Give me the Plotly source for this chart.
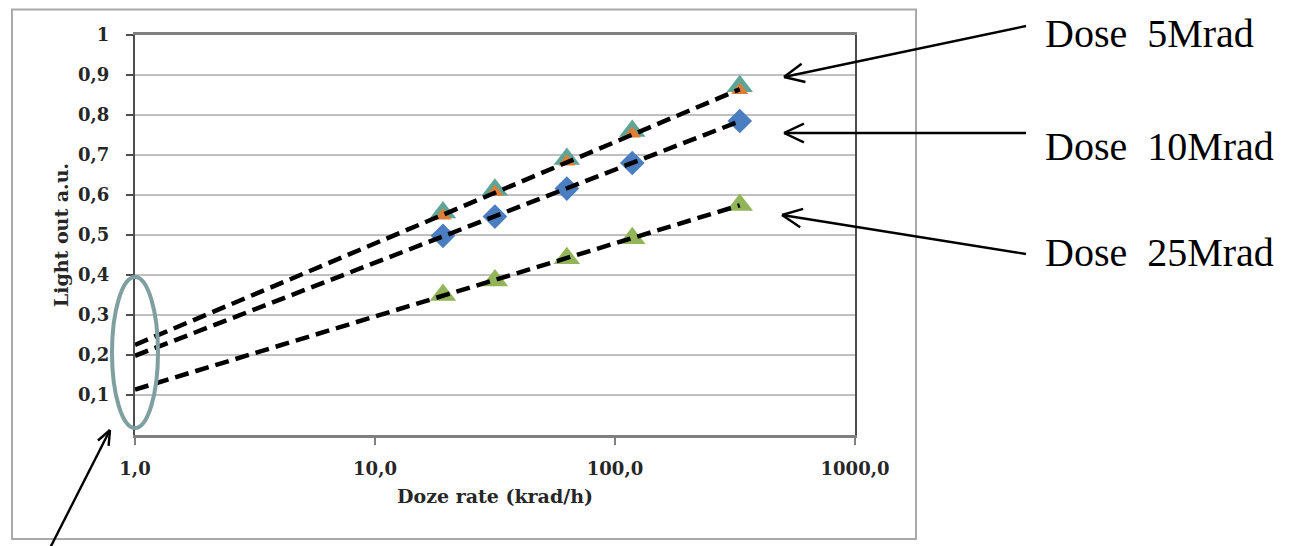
import numpy as np
import plotly.graph_objects as go

# ---------------- data ----------------
dose_rate = [19.2, 31.6, 63.0, 118.0, 331.0]           # krad/h
light_5_orange = [0.548, 0.607, 0.683, 0.753, 0.862]    # Dose 5 Mrad (orange marker)
light_5_teal = [0.556, 0.613, 0.690, 0.760, 0.872]      # Dose 5 Mrad (teal triangle)
light_10 = [0.498, 0.546, 0.616, 0.680, 0.785]          # Dose 10 Mrad
light_25 = [0.350, 0.386, 0.442, 0.492, 0.575]          # Dose 25 Mrad

y_tickvals = [0.1, 0.2, 0.3, 0.4, 0.5, 0.6, 0.7, 0.8, 0.9, 1.0]
y_ticktext = ["0,1", "0,2", "0,3", "0,4", "0,5", "0,6", "0,7", "0,8", "0,9", "1"]
x_tickvals = [1, 10, 100, 1000]
x_ticktext = ["1,0", "10,0", "100,0", "1000,0"]
dose_labels = ["Dose\u00a0\u00a05Mrad", "Dose\u00a0\u00a010Mrad", "Dose\u00a0\u00a025Mrad"]

# ---------------- layout geometry (page pixels) ----------------
OFF = 8                          # default page body margin
W, H = 1295 - OFF, 546 - OFF     # figure size
PL, PR, PT, PB = 135, 855, 35, 435   # plot area edges in page px


def px(x):
    return (x - PL) / (PR - PL)


def py(y):
    return (PB - y) / (PB - PT)


CHART_FONT = "DejaVu Serif"
TXT = "#262626"

fig = go.Figure()

# markers
fig.add_trace(go.Scatter(x=dose_rate, y=light_10, mode="markers", name="10 Mrad",
                         marker=dict(symbol="diamond", size=19, color="#4a7ec0")))
fig.add_trace(go.Scatter(x=dose_rate, y=light_25, mode="markers", name="25 Mrad",
                         marker=dict(symbol="triangle-up", size=23, color="#93b55a")))
fig.add_trace(go.Scatter(x=dose_rate, y=light_5_teal, mode="markers", name="5 Mrad a",
                         marker=dict(symbol="triangle-up", size=23, color="#5fa597")))
fig.add_trace(go.Scatter(x=dose_rate, y=light_5_orange, mode="markers", name="5 Mrad b",
                         marker=dict(symbol="triangle-up", size=15, color="#dd7d38")))

# logarithmic trendlines (least squares on log10 x, like Excel's log trendline)
xs_line = np.logspace(0, np.log10(max(dose_rate)), 60)
for ys in (light_5_orange, light_10, light_25):
    k, b = np.polyfit(np.log10(dose_rate), ys, 1)
    fig.add_trace(go.Scatter(x=xs_line, y=k * np.log10(xs_line) + b, mode="lines",
                             line=dict(color="black", width=4.5, dash="14px,7px"),
                             hoverinfo="skip"))

shapes = []
# outer chart frame
shapes.append(dict(type="rect", xref="paper", yref="paper",
                   x0=px(12), x1=px(916), y0=py(9.5), y1=py(539),
                   line=dict(color="#a9a9a9", width=2), layer="below"))
# ellipse around intercepts
shapes.append(dict(type="circle", xref="paper", yref="paper",
                   x0=px(112), x1=px(158), y0=py(277), y1=py(428),
                   line=dict(color="#7f9fa0", width=4)))


def arrow(tail, tip, arm=22, ang=25):
    s = [dict(type="line", xref="paper", yref="paper",
              x0=px(tail[0]), y0=py(tail[1]), x1=px(tip[0]), y1=py(tip[1]),
              line=dict(color="black", width=2.4))]
    d = np.array(tail, float) - np.array(tip, float)
    d /= np.linalg.norm(d)
    for a in (ang, -ang):
        r = np.radians(a)
        v = np.array([d[0] * np.cos(r) - d[1] * np.sin(r), d[0] * np.sin(r) + d[1] * np.cos(r)])
        e = np.array(tip, float) + arm * v
        s.append(dict(type="line", xref="paper", yref="paper",
                      x0=px(tip[0]), y0=py(tip[1]), x1=px(e[0]), y1=py(e[1]),
                      line=dict(color="black", width=2.4)))
    return s


shapes += arrow((1026, 26), (784, 77))
shapes += arrow((1026, 133), (784, 133))
shapes += arrow((1026, 254), (782, 215))
shapes += arrow((48, 552), (110, 430), arm=16, ang=22)

annotations = []
for lab, yy in zip(dose_labels, [33, 146, 253]):
    annotations.append(dict(xref="paper", yref="paper", x=px(1044), y=py(yy),
                            xanchor="left", yanchor="middle", showarrow=False,
                            borderpad=0,
                            text=lab, font=dict(family="Liberation Serif", size=40, color="black")))

fig.update_layout(
    width=W, height=H,
    margin=dict(l=PL - OFF, r=W - (PR - OFF), t=PT - OFF, b=H - (PB - OFF), pad=0),
    paper_bgcolor="white", plot_bgcolor="white",
    showlegend=False,
    shapes=shapes, annotations=annotations,
    font=dict(family=CHART_FONT, color=TXT),
)

fig.update_xaxes(type="log", range=[0, 3], tickvals=x_tickvals, ticktext=x_ticktext,
                 showgrid=False, zeroline=False,
                 showline=True, linecolor="#7f7f7f", linewidth=2.5, mirror=True,
                 ticks="outside", ticklen=7, tickwidth=1.5, tickcolor="#7f7f7f",
                 ticklabelstandoff=9,
                 tickfont=dict(family=CHART_FONT, size=18, color=TXT, weight="bold"),
                 title=dict(text="Doze rate (krad/h)", standoff=12,
                            font=dict(family=CHART_FONT, size=19, color=TXT, weight="bold")))
fig.update_yaxes(range=[0, 1], tickvals=y_tickvals, ticktext=y_ticktext,
                 showgrid=True, gridcolor="#c0c0c0", gridwidth=1.5, zeroline=False,
                 showline=True, linecolor="#4d4d4d", linewidth=2.2, mirror=True,
                 ticks="outside", ticklen=7, tickwidth=1.5, tickcolor="#4d4d4d",
                 ticklabelstandoff=13,
                 tickfont=dict(family=CHART_FONT, size=18, color=TXT, weight="bold"),
                 title=dict(text="Light out a.u.", standoff=4,
                            font=dict(family=CHART_FONT, size=19, color=TXT, weight="bold")))

fig.write_html("out.html")
